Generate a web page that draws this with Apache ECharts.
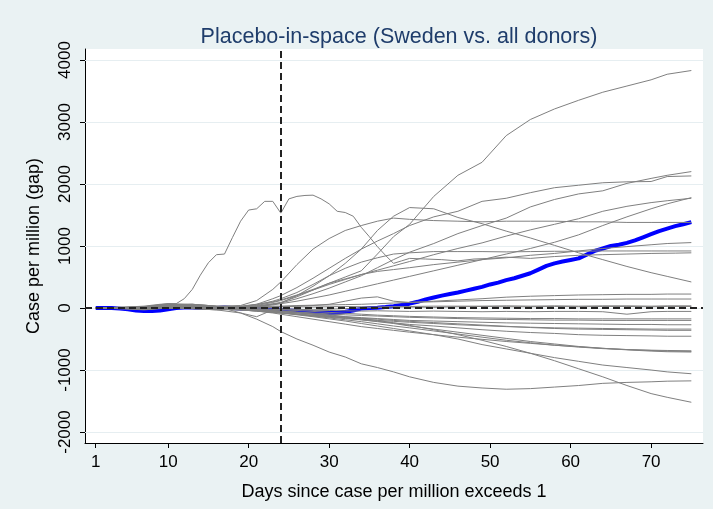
<!DOCTYPE html>
<html>
<head>
<meta charset="utf-8">
<script src="https://cdn.jsdelivr.net/npm/echarts@6/dist/echarts.min.js"></script>
<style>
  html, body { margin: 0; padding: 0; background: #eaf2f3; }
  #chart { width: 713px; height: 509px; }
</style>
</head>
<body>
<div id="chart"></div>
<script>
// Axis ticks and reference lines
const xTicks = [1, 10, 20, 30, 40, 50, 60, 70];
const yTicks = [-2000, -1000, 0, 1000, 2000, 3000, 4000];
const treatmentDay = 24;

// Sweden: gap in cases per million, days 1..75
const swedenDays = Array.from({ length: 75 }, (_, i) => i + 1);
const swedenGap = [
  0, 0, 0, -10, -20, -40, -50, -50, -40, -20,
  0, 10, 10, 0, 0, 0, 10, 0, -10, -10,
  -10, -20, -20, -30, -40, -50, -60, -70, -75, -80,
  -75, -60, -40, -10, 0, 5, 15, 30, 50, 70,
  100, 140, 170, 200, 225, 250, 280, 310, 340, 380,
  410, 450, 480, 520, 560, 620, 680, 720, 750, 775,
  800, 860, 920, 960, 1000, 1020, 1050, 1090, 1140, 1190,
  1240, 1280, 1320, 1350, 1385
];

// Donor placebo gaps, sampled on a common set of days
const donorDays = [1, 4, 7, 10, 13, 16, 19, 21, 23, 24, 26, 28, 30, 32, 34, 36, 38, 40, 43, 46, 49, 52, 55, 58, 61, 64, 67, 70, 72, 75];
const donorA  = [0, 5, 20, 60, 40, 20, 10, 30, 70, 90, 180, 290, 400, 500, 600, 870, 1150, 1350, 1800, 2140, 2350, 2780, 3040, 3210, 3350, 3480, 3580, 3680, 3770, 3830];
const donorB  = [0, 0, 10, 40, 30, 10, 0, 20, 60, 80, 150, 230, 320, 420, 520, 650, 780, 900, 1040, 1200, 1330, 1450, 1630, 1750, 1840, 1890, 2010, 2090, 2140, 2200];
const donorC  = [0, 10, 0, 50, 60, 30, 20, 60, 150, 200, 330, 480, 640, 800, 950, 1080, 1200, 1330, 1470, 1560, 1720, 1770, 1860, 1940, 1980, 2020, 2035, 2040, 2120, 2130];
const donorD  = [0, -10, 10, 30, 20, 0, 10, 40, 90, 120, 200, 290, 380, 460, 540, 610, 680, 750, 860, 960, 1050, 1160, 1260, 1350, 1440, 1560, 1640, 1700, 1730, 1770];
const donorE  = [0, 0, -20, 10, 0, -10, 0, 20, 50, 70, 110, 160, 210, 270, 330, 390, 450, 510, 600, 690, 780, 870, 960, 1060, 1180, 1330, 1470, 1600, 1680, 1780];
const donorF  = [0, 10, 20, 70, 60, 30, 40, 120, 300, 420, 700, 950, 1120, 1250, 1330, 1400, 1450, 1430, 1410, 1400, 1390, 1400, 1400, 1400, 1390, 1390, 1380, 1380, 1380, 1380];
const donorG  = [0, 0, 10, 30, 20, 10, 30, 60, 100, 130, 210, 300, 400, 470, 540, 590, 620, 650, 700, 740, 780, 810, 850, 880, 920, 960, 990, 1020, 1040, 1055];
const donorH  = [0, 5, 15, 40, 50, 20, 20, 50, 110, 150, 250, 380, 520, 640, 740, 810, 870, 890, 910, 910, 910, 905, 910, 915, 915, 920, 920, 920, 920, 920];
const donorI  = [0, 0, 10, 20, 10, -10, 0, 30, 60, 80, 200, 350, 520, 720, 950, 1250, 1480, 1620, 1600, 1460, 1360, 1240, 1130, 1010, 890, 780, 670, 570, 510, 420];
const donorJ  = [0, 0, -10, 10, 0, -20, -10, 0, 10, 20, 30, 40, 60, 110, 160, 180, 110, 90, 110, 130, 150, 175, 190, 200, 210, 215, 220, 220, 225, 225];
const donorK  = [0, 0, 0, 20, 10, 0, 10, 20, 30, 30, 40, 45, 50, 55, 60, 70, 80, 90, 100, 110, 120, 125, 130, 135, 140, 140, 145, 145, 145, 145];
const donorL  = [0, -5, -20, 10, 20, 5, 0, 10, 20, 25, 20, 15, 20, 25, 20, 15, 20, 25, 30, 30, 30, 35, 30, 35, 30, 35, 35, 30, 35, 35];
const donorM  = [0, 5, 10, 40, 60, 30, -80, -140, -30, -10, -20, -30, -20, -10, 0, 10, 20, 15, 10, 20, 25, 20, 20, 25, 20, 25, 25, 20, 25, 25];
const donorN  = [0, -10, -30, 0, 10, 0, -10, -20, -20, -25, -30, -35, -40, -45, -50, -45, -50, -55, -50, -55, -60, -55, -60, -55, -55, -60, -100, -60, -55, -55];
const donorO  = [0, 0, -10, 20, 30, 10, 0, -10, -20, -30, -40, -55, -70, -85, -100, -115, -125, -135, -145, -155, -160, -165, -170, -170, -175, -175, -175, -175, -175, -175];
const donorP  = [0, 10, 20, 50, 40, 0, -20, -30, -40, -50, -65, -80, -95, -110, -120, -130, -140, -150, -160, -170, -180, -185, -190, -195, -195, -200, -200, -200, -200, -200];
const donorQ  = [0, -10, -20, 0, -10, -30, -20, -30, -50, -60, -80, -100, -120, -140, -155, -170, -185, -200, -210, -220, -230, -240, -245, -250, -255, -260, -265, -265, -270, -270];
const donorR  = [0, 0, 10, 30, 0, -20, -30, -50, -70, -80, -100, -120, -140, -160, -180, -200, -215, -230, -250, -270, -285, -300, -310, -320, -325, -330, -335, -340, -340, -340];
const donorS  = [0, -5, -10, 10, 20, 10, -20, -40, -60, -75, -95, -115, -135, -150, -165, -180, -200, -215, -235, -255, -275, -295, -315, -330, -340, -345, -350, -355, -360, -360];
const donorT  = [0, 0, -5, 20, 10, -10, -30, -50, -70, -80, -100, -130, -150, -170, -190, -215, -240, -265, -290, -320, -350, -375, -395, -410, -430, -440, -445, -450, -455, -455];
const donorU  = [0, 0, 0, 10, 0, -20, -30, -50, -80, -100, -140, -180, -220, -260, -300, -330, -360, -390, -430, -470, -505, -540, -570, -600, -625, -650, -670, -685, -695, -700];
const donorV  = [0, 5, 15, 40, 30, 0, -20, -40, -60, -75, -100, -130, -160, -190, -220, -255, -290, -320, -370, -420, -470, -520, -560, -600, -630, -655, -670, -680, -685, -690];
const donorW  = [0, -5, -10, 0, -10, -20, -30, -30, -40, -50, -70, -100, -130, -160, -190, -220, -250, -290, -340, -390, -440, -490, -540, -580, -620, -650, -675, -695, -705, -710];
const donorX  = [0, 0, 10, 30, 20, 0, -20, -40, -60, -80, -110, -140, -175, -210, -250, -290, -330, -370, -430, -500, -590, -660, -730, -800, -860, -920, -960, -1000, -1030, -1060];
const donorY  = [0, 0, -10, 10, 0, -10, -20, -30, -40, -50, -70, -90, -110, -140, -170, -200, -240, -280, -350, -430, -520, -620, -730, -850, -980, -1110, -1250, -1380, -1440, -1520];
const donorZ  = [0, 10, -20, 0, -10, -30, -80, -180, -300, -380, -500, -600, -710, -790, -900, -960, -1030, -1110, -1200, -1260, -1290, -1310, -1300, -1275, -1250, -1215, -1200, -1190, -1180, -1175];

// Donor with the early surge, sampled more densely
const surgeDays = [1, 4, 7, 9, 10, 11, 12, 13, 14, 15, 16, 17, 18, 19, 20, 21, 22, 23, 24, 25, 26, 27, 28, 29, 30, 31, 32, 33, 34, 35, 36, 37, 38, 39, 40, 42, 44, 46, 48, 50, 52, 55, 58, 61, 64, 67, 70, 73, 75];
const surgeGap  = [0, 10, 30, 60, 70, 70, 150, 300, 530, 730, 860, 870, 1140, 1400, 1580, 1600, 1720, 1720, 1530, 1760, 1800, 1815, 1820, 1760, 1680, 1560, 1540, 1480, 1300, 1150, 990, 850, 720, 760, 800, 790, 780, 760, 790, 800, 820, 800, 830, 850, 860, 870, 880, 885, 890];

const donorGaps = [donorA, donorB, donorC, donorD, donorE, donorF, donorG, donorH, donorI, donorJ,
  donorK, donorL, donorM, donorN, donorO, donorP, donorQ, donorR, donorS, donorT,
  donorU, donorV, donorW, donorX, donorY, donorZ];

const FONT = '"Liberation Sans", Arial, Helvetica, sans-serif';
const pairs = (days, vals) => days.map((d, i) => [d, vals[i]]);

const donorLine = (data) => ({
  type: 'line', data: data, symbol: 'none', showSymbol: false, silent: true,
  lineStyle: { color: '#808080', width: 1 }, z: 3
});

const series = [];

// plot-area gridlines
series.push({
  type: 'line', data: [], silent: true, z: 1,
  markLine: {
    z: 1, silent: true, symbol: 'none', animation: false,
    label: { show: false },
    lineStyle: { color: '#e6eef1', width: 1, type: 'solid' },
    data: yTicks.map(v => ({ yAxis: v }))
  }
});

series.push({
  name: 'Sweden', type: 'line', data: pairs(swedenDays, swedenGap),
  symbol: 'none', showSymbol: false, silent: true, z: 2,
  lineStyle: { color: '#0000ff', width: 4 }
});

donorGaps.forEach(vals => series.push(donorLine(pairs(donorDays, vals))));
series.push(donorLine(pairs(surgeDays, surgeGap)));

// treatment day and zero-gap reference lines
series.push({
  type: 'line', data: [], silent: true, z: 10,
  markLine: {
    z: 10, silent: true, symbol: 'none', animation: false,
    label: { show: false },
    lineStyle: { color: '#222', width: 2, type: [7, 4] },
    data: [{ xAxis: treatmentDay }, { yAxis: 0 }]
  }
});

const plain = v => String(v);

const chart = echarts.init(document.getElementById('chart'));
chart.setOption({
  animation: false,
  backgroundColor: '#eaf2f3',
  title: {
    text: 'Placebo-in-space (Sweden vs. all donors)',
    left: 394, top: 21, textAlign: 'center',
    textStyle: { color: '#1f3d6b', fontSize: 21.5, fontWeight: 'normal', fontFamily: FONT }
  },
  grid: { left: 85, right: 10, top: 49, bottom: 66, show: true, backgroundColor: '#ffffff', borderWidth: 0 },
  xAxis: {
    type: 'value', min: -0.33, max: 76.45,
    axisLine: { show: true, onZero: false, lineStyle: { color: '#000', width: 1 } },
    axisTick: { show: true, customValues: xTicks, length: 5, lineStyle: { color: '#000' } },
    axisLabel: { customValues: xTicks, formatter: plain, color: '#000', fontSize: 17, margin: 11, fontFamily: FONT },
    splitLine: { show: false },
    name: 'Days since case per million exceeds 1',
    nameLocation: 'middle', nameGap: 40,
    nameTextStyle: { color: '#000', fontSize: 18, fontFamily: FONT }
  },
  yAxis: {
    type: 'value', min: -2177, max: 4177,
    axisLine: { show: true, onZero: false, lineStyle: { color: '#000', width: 1 } },
    axisTick: { show: true, customValues: yTicks, length: 5, lineStyle: { color: '#000' } },
    axisLabel: { customValues: yTicks, formatter: plain, rotate: 90, color: '#000', fontSize: 17, margin: 11, fontFamily: FONT },
    splitLine: { show: false },
    name: 'Case per million (gap)',
    nameLocation: 'middle', nameGap: 42,
    nameTextStyle: { color: '#000', fontSize: 18, fontFamily: FONT }
  },
  series: series
});
</script>
</body>
</html>
